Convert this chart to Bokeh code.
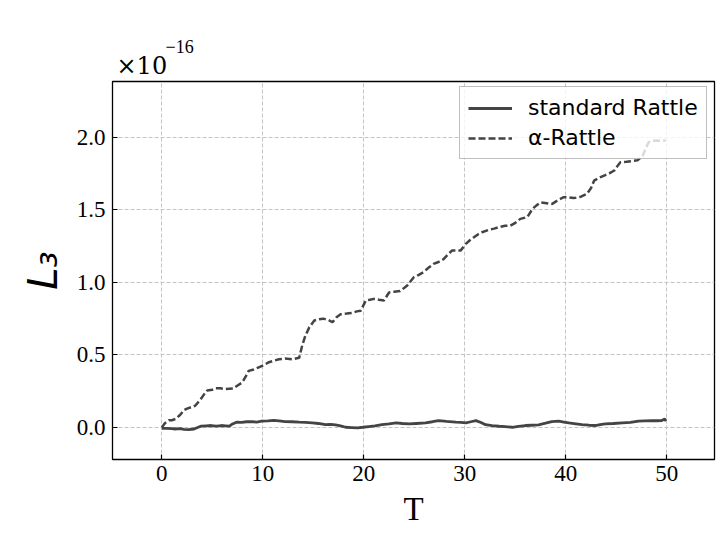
from bokeh.plotting import figure
from bokeh.models import Range1d, FixedTicker, Legend, LegendItem, Title, PrintfTickFormatter
from bokeh.embed import file_html
from bokeh.resources import INLINE

# ---- data (values in units of 1e-16) ----
T_alpha = [0.0, 0.3, 0.7, 1.0, 1.4, 1.85, 2.2, 2.5, 2.9, 3.3, 3.8, 4.2, 4.5, 5.0, 5.3, 5.8, 6.3,
           7.1, 7.5, 7.96, 8.3, 8.6, 9.1, 9.6, 10.1, 10.6, 11.1, 11.6, 12.2, 12.9, 13.6, 13.9,
           14.2, 14.6, 15.1, 15.5, 16.0, 16.5, 16.9, 17.3, 17.7, 18.3, 18.85, 19.3, 19.7, 20.2,
           20.6, 21.0, 21.5, 22.0, 22.5, 23.0, 23.6, 24.3, 24.95, 25.4, 25.9, 26.4, 26.9, 27.4,
           27.9, 28.3, 28.75, 29.2, 29.6, 30.1, 30.5, 30.9, 31.3, 31.7, 32.3, 32.9, 33.4, 34.0,
           34.5, 35.0, 35.5, 36.2, 36.7, 37.1, 37.5, 38.1, 38.65, 39.2, 39.8, 40.3, 40.8, 41.5,
           42.1, 42.5, 42.8, 43.3, 43.8, 44.3, 44.8, 45.1, 45.4, 46.0, 46.5, 47.1, 47.6, 47.9,
           48.2, 48.6, 48.9, 49.4, 49.9]
L3_alpha = [0.0, 0.03, 0.05, 0.05, 0.06, 0.09, 0.12, 0.13, 0.14, 0.15, 0.19, 0.23, 0.255, 0.26,
            0.27, 0.27, 0.265, 0.27, 0.29, 0.31, 0.35, 0.39, 0.40, 0.415, 0.43, 0.45, 0.46, 0.47,
            0.475, 0.47, 0.48, 0.565, 0.63, 0.69, 0.737, 0.745, 0.75, 0.74, 0.725, 0.76, 0.78,
            0.785, 0.79, 0.80, 0.805, 0.875, 0.88, 0.886, 0.88, 0.875, 0.93, 0.935, 0.94, 0.978,
            1.035, 1.05, 1.07, 1.10, 1.127, 1.14, 1.16, 1.19, 1.22, 1.22, 1.22, 1.265, 1.29, 1.31,
            1.33, 1.345, 1.36, 1.37, 1.38, 1.39, 1.39, 1.41, 1.437, 1.45, 1.506, 1.53, 1.55, 1.545,
            1.54, 1.565, 1.586, 1.585, 1.58, 1.59, 1.61, 1.65, 1.70, 1.72, 1.735, 1.75, 1.77, 1.80,
            1.827, 1.83, 1.835, 1.84, 1.87, 1.92, 1.965, 1.975, 1.977, 1.975, 1.977]

T_std = [0.0, 0.5, 1.0, 1.3, 1.8, 2.2, 2.67, 3.2, 3.6, 3.9, 4.4, 4.9, 5.4, 5.9, 6.3, 6.7, 7.0,
         7.4, 7.9, 8.4, 8.9, 9.4, 9.9, 10.5, 11.1, 11.6, 12.2, 12.9, 13.6, 14.2, 14.9, 15.5,
         16.2, 16.7, 17.2, 17.7, 18.2, 18.8, 19.4, 19.9, 20.5, 21.1, 21.8, 22.5, 23.2, 23.8,
         24.5, 25.2, 26.1, 26.8, 27.4, 28.2, 29.1, 29.6, 30.1, 30.6, 31.1, 31.6, 32.05, 32.7,
         33.4, 34.0, 34.7, 35.3, 36.0, 36.6, 37.3, 38.0, 38.6, 39.3, 39.8, 40.3, 41.0, 41.6,
         42.3, 42.9, 43.4, 43.9, 44.7, 45.6, 46.4, 47.2, 47.8, 48.5, 49.0, 49.5, 49.8, 49.9]
L3_std = [-0.005, -0.006, -0.008, -0.01, -0.008, -0.012, -0.014, -0.01, 0.002, 0.01, 0.012, 0.014,
          0.01, 0.014, 0.012, 0.01, 0.025, 0.037, 0.035, 0.04, 0.041, 0.038, 0.044, 0.046, 0.05,
          0.046, 0.041, 0.04, 0.037, 0.035, 0.032, 0.028, 0.02, 0.022, 0.018, 0.012, 0.002, 0.0,
          -0.002, 0.002, 0.007, 0.012, 0.02, 0.025, 0.032, 0.028, 0.025, 0.028, 0.032, 0.04,
          0.048, 0.042, 0.037, 0.035, 0.032, 0.04, 0.048, 0.035, 0.02, 0.013, 0.009, 0.006,
          0.002, 0.008, 0.014, 0.016, 0.018, 0.03, 0.041, 0.044, 0.038, 0.032, 0.026, 0.02,
          0.016, 0.014, 0.02, 0.025, 0.028, 0.032, 0.035, 0.044, 0.046, 0.048, 0.047, 0.048,
          0.06, 0.044]

x_ticks = [0, 10, 20, 30, 40, 50]
y_ticks = [0.0, 0.5, 1.0, 1.5, 2.0]
series_labels = ["standard Rattle", "\u03b1-Rattle"]
offset_base = "\u00d710"
offset_exp = "\u221216"

LINE = "#444444"
SERIF = "Liberation Serif"

p = figure(width=720, height=540, output_backend="svg", toolbar_location=None,
           x_range=Range1d(-4.88, 54.72), y_range=Range1d(-0.22, 2.383),
           min_border_left=112, min_border_right=6, min_border_top=81, min_border_bottom=81)
p.background_fill_color = "white"
p.border_fill_color = "white"
p.outline_line_color = "black"
p.outline_line_width = 1.3

r_std = p.line(T_std, L3_std, line_color=LINE, line_width=2.8)
r_alpha = p.line(T_alpha, L3_alpha, line_color=LINE, line_width=2.5, line_dash="7 3")

for ax in (p.xaxis[0], p.yaxis[0]):
    ax.major_tick_in = 5
    ax.major_tick_out = 0
    ax.minor_tick_line_color = None
    ax.axis_line_color = None
    ax.major_tick_line_color = "black"
    ax.major_tick_line_width = 1.2
    ax.major_label_text_font = SERIF
    ax.major_label_text_font_size = "23px"
    ax.major_label_text_color = "black"

p.xaxis.ticker = FixedTicker(ticks=x_ticks)
p.yaxis.ticker = FixedTicker(ticks=y_ticks)
p.yaxis.formatter = PrintfTickFormatter(format="%.1f")
p.xaxis.major_label_standoff = 6
p.yaxis.major_label_standoff = 7

p.xaxis.axis_label = "T"
p.xaxis.axis_label_text_font = SERIF
p.xaxis.axis_label_text_font_style = "normal"
p.xaxis.axis_label_text_font_size = "33px"
p.xaxis.axis_label_text_color = "black"
p.xaxis.axis_label_standoff = 7

p.yaxis.axis_label = "L\u2083"
p.yaxis.axis_label_text_font = "DejaVu Sans"
p.yaxis.axis_label_text_font_style = "italic"
p.yaxis.axis_label_text_font_size = "40px"
p.yaxis.axis_label_text_color = "black"
p.yaxis.axis_label_standoff = 8

for g in (p.xgrid[0], p.ygrid[0]):
    g.grid_line_color = "#c4c4c4"
    g.grid_line_dash = "4 2"
    g.grid_line_width = 1

legend = Legend(items=[LegendItem(label=series_labels[0], renderers=[r_std]),
                       LegendItem(label=series_labels[1], renderers=[r_alpha])],
                location=(347, 300))
legend.label_text_font = "DejaVu Sans"
legend.label_text_font_size = "22px"
legend.label_text_color = "black"
legend.glyph_width = 44
legend.glyph_height = 22
legend.label_height = 22
legend.label_standoff = 16
legend.spacing = 5
legend.padding = 8
legend.margin = 0
legend.border_line_color = "#808080"
legend.border_line_width = 1.5
legend.background_fill_color = "white"
legend.background_fill_alpha = 0.8
p.add_layout(legend, "center")

# offset text "x10^-16" above the frame, as two stacked titles
t_base = Title(text=offset_base, align="left", offset=4, standoff=4,
               text_font="DejaVu Serif", text_font_size="24px", text_font_style="normal",
               text_color="black")
t_exp = Title(text=offset_exp, align="left", offset=53, standoff=-10,
              text_font=SERIF, text_font_size="18px", text_font_style="normal",
              text_color="black")
p.add_layout(t_base, "above")
p.add_layout(t_exp, "above")

open("out.html", "w").write(file_html(p, INLINE))
